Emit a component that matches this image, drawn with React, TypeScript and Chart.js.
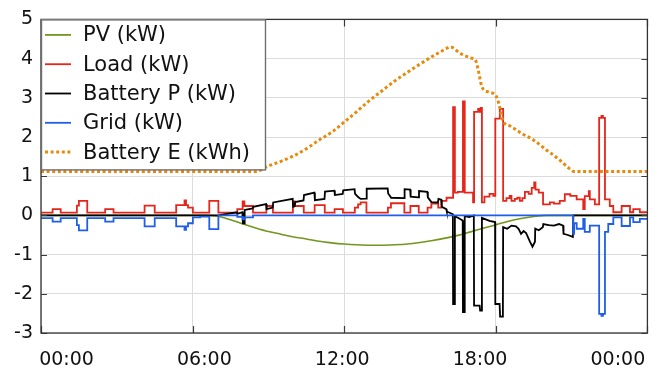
import React, { useEffect, useRef } from 'react';
import { Chart, registerables } from 'chart.js';

Chart.register(...registerables);

// ---- data (hours, value) ----
const PV: [number, number][] = [
  [0, 0], [6.5, 0], [7, -0.02], [7.5, -0.11], [8, -0.22], [8.5, -0.32], [9, -0.41], [9.5, -0.48],
  [10, -0.55], [10.5, -0.6], [11, -0.66], [11.5, -0.7], [12, -0.73], [12.5, -0.75], [13, -0.76],
  [13.5, -0.76], [14, -0.75], [14.5, -0.73], [15, -0.69], [15.5, -0.64], [16, -0.58], [16.5, -0.51],
  [17, -0.42], [17.5, -0.33], [18, -0.24], [18.5, -0.15], [19, -0.08], [19.5, -0.03], [20, 0], [24, 0],
];

const LOAD: [number, number][] = [
  [0, 0.07], [0.46, 0.16], [0.78, 0.07], [1.42, 0.25], [1.5, 0.37], [1.83, 0.07], [2.54, 0.16], [2.87, 0.07],
  [4.1, 0.25], [4.5, 0.07], [5.35, 0.26], [5.68, 0.38], [5.74, 0.26], [5.82, 0.2], [6.01, 0.07], [6.66, 0.37],
  [7.02, 0.07], [7.77, 0.16], [7.98, 0.36], [8.05, 0.24], [8.39, 0.07], [8.92, 0.24], [9.18, 0.07],
  [9.97, 0.36], [10.05, 0.24], [10.4, 0.07], [10.83, 0.26], [11.23, 0.07], [11.62, 0.16], [11.95, 0.07],
  [12.42, 0.2], [12.55, 0.28], [12.65, 0.33], [12.88, 0.07], [13.73, 0.2], [13.85, 0.31], [14.38, 0.07],
  [14.62, 0.24], [14.95, 0.07], [15.3, 0.2], [15.45, 0.3], [15.72, 0.2], [15.85, 0.37], [16.05, 0.45],
  [16.31, 2.76], [16.38, 0.58], [16.5, 0.6], [16.7, 2.91], [16.77, 0.58], [17.1, 0.33], [17.14, 2.64],
  [17.3, 2.72], [17.36, 2.64], [17.4, 2.74], [17.45, 0.33], [17.55, 0.48], [17.75, 0.55], [17.9, 0.5],
  [17.98, 2.47], [18.16, 2.72], [18.29, 0.37], [18.42, 0.44], [18.55, 0.5], [18.62, 0.37], [18.75, 0.42],
  [18.85, 0.45], [18.95, 0.37], [19.05, 0.44], [19.15, 0.6], [19.3, 0.55], [19.42, 0.7], [19.52, 0.84],
  [19.57, 0.66], [19.7, 0.58], [19.87, 0.28], [20.14, 0.33], [20.3, 0.3], [20.53, 0.37], [20.73, 0.54],
  [20.95, 0.5], [21.2, 0.41], [21.46, 0.16], [21.52, 0.49], [21.68, 0.62], [21.72, 0.41], [21.92, 0.28],
  [22.09, 2.49], [22.18, 2.54], [22.24, 2.49], [22.32, 0.41], [22.51, 0.24], [22.65, 0.08], [22.98, 0.24],
  [23.31, 0.08], [23.44, 0.16], [23.7, 0.08], [24, 0.08],
];

const BATTERY_P: [number, number][] = [
  [0, 0], [7.0, 0], [7.75, 0.08], [7.77, 0.04], [7.97, 0.08], [7.99, -0.2], [8.04, -0.2], [8.06, 0.14],
  [8.38, 0.18], [8.4, 0.22], [8.91, 0.29], [8.93, 0.16], [9.17, 0.2], [9.19, 0.33], [9.96, 0.42],
  [9.98, 0.22], [10.04, 0.23], [10.06, 0.34], [10.39, 0.38], [10.41, 0.52], [10.82, 0.58], [10.84, 0.39],
  [11.22, 0.42], [11.24, 0.61], [11.61, 0.63], [11.63, 0.52], [11.94, 0.55], [11.96, 0.64], [12.41, 0.67],
  [12.43, 0.55], [12.55, 0.47], [12.65, 0.42], [12.87, 0.43], [12.89, 0.68], [13.72, 0.69], [13.74, 0.56],
  [13.86, 0.45], [14.37, 0.44], [14.39, 0.67], [14.61, 0.66], [14.63, 0.48], [14.94, 0.46], [14.96, 0.62],
  [15.29, 0.6], [15.31, 0.46], [15.45, 0.34], [15.71, 0.33], [15.73, 0.42], [15.84, 0.4], [15.86, 0.22],
  [16.04, 0.16], [16.06, 0.1], [16.3, 0.03], [16.31, -2.26], [16.37, -2.26], [16.38, -0.02], [16.5, -0.06],
  [16.69, -0.13], [16.7, -2.47], [16.76, -2.47], [16.77, -0.02], [16.95, -0.04], [17.13, 0.0], [17.14, -2.3],
  [17.36, -2.3], [17.38, -2.43], [17.44, -2.43], [17.45, -0.06], [17.6, -0.1], [17.75, -0.14], [17.97, -0.17],
  [17.98, -2.26], [18.15, -2.26], [18.17, -2.58], [18.28, -2.58], [18.29, -0.3], [18.45, -0.34],
  [18.62, -0.26], [18.8, -0.28], [18.9, -0.34], [19.0, -0.47], [19.1, -0.4], [19.2, -0.45], [19.35, -0.67],
  [19.45, -0.8], [19.55, -0.67], [19.56, -0.34], [19.7, -0.38], [19.86, -0.3], [19.88, -0.22], [20.1, -0.25],
  [20.3, -0.26], [20.5, -0.22], [20.66, -0.26], [20.68, -0.47], [20.85, -0.5], [21.05, -0.55], [21.07, 0],
  [24, 0],
];

const GRID: [number, number][] = [
  [0, -0.07], [0.46, -0.16], [0.78, -0.07], [1.42, -0.25], [1.5, -0.38], [1.83, -0.07], [2.54, -0.16],
  [2.87, -0.07], [4.1, -0.28], [4.5, -0.07], [5.35, -0.28], [5.68, -0.37], [5.74, -0.28], [5.82, -0.2],
  [6.01, -0.05], [6.3, -0.03], [6.66, -0.35], [7.02, 0], [7.77, -0.04], [7.98, -0.1], [8.05, -0.05],
  [8.39, 0], [21.06, -0.47], [21.1, -0.2], [21.2, -0.34], [21.46, -0.09], [21.52, -0.42], [21.72, -0.26],
  [22.09, -2.51], [22.18, -2.56], [22.24, -2.51], [22.32, -0.42], [22.45, -0.22], [22.65, -0.05],
  [22.98, -0.27], [23.31, -0.05], [23.44, -0.17], [23.7, -0.09], [24, -0.09],
];

const BATTERY_E: [number, number][] = [
  [0, 1.12], [8.5, 1.12], [9, 1.26], [9.5, 1.38], [10, 1.52], [10.5, 1.7], [11, 1.92], [11.5, 2.12],
  [12, 2.38], [12.5, 2.65], [13, 2.93], [13.5, 3.18], [14, 3.43], [14.5, 3.65], [15, 3.86], [15.5, 4.06],
  [16, 4.24], [16.2, 4.3], [16.6, 4.13], [17.0, 4.02], [17.2, 3.95], [17.3, 3.72], [17.45, 3.28],
  [17.7, 3.15], [18.0, 3.06], [18.12, 2.85], [18.28, 2.42], [18.6, 2.27], [19, 2.1], [19.5, 1.92],
  [20, 1.67], [20.5, 1.43], [20.9, 1.2], [21.1, 1.12], [24, 1.12],
];

const SERIES_NAMES = ['PV (kW)', 'Load (kW)', 'Battery P (kW)', 'Grid (kW)', 'Battery E (kWh)'];
const X_TICK_HOURS = [0, 6, 12, 18, 24];
const X_LABELS = ['00:00', '06:00', '12:00', '18:00', '00:00'];
const Y_TICKS = [-3, -2, -1, 0, 1, 2, 3, 4, 5];

// ---- styles ----
const FONT = '"DejaVu Sans", "Liberation Sans", sans-serif';
const COLORS = ['#72961f', '#e5261b', '#000000', '#1f5ee8', '#e8890c'];
const GRID_COLOR = '#dcdcdc';

const toXY = (arr: [number, number][]) => arr.map(([t, v]) => ({ x: t, y: v }));

const decorPlugin = {
  id: 'decor',
  afterDraw(chart: any) {
    const { ctx, chartArea: a, scales } = chart;
    const xs = scales.x;
    const ys = scales.y;
    ctx.save();
    // inward ticks
    ctx.strokeStyle = '#3a3a3a';
    ctx.lineWidth = 1.2;
    ctx.beginPath();
    for (const v of Y_TICKS) {
      const py = Math.round(ys.getPixelForValue(v)) + 0.5;
      ctx.moveTo(a.left, py);
      ctx.lineTo(a.left + 6, py);
      ctx.moveTo(a.right, py);
      ctx.lineTo(a.right - 6, py);
    }
    for (const h of X_TICK_HOURS) {
      const px = Math.round(xs.getPixelForValue(h)) + 0.5;
      ctx.moveTo(px, a.bottom);
      ctx.lineTo(px, a.bottom - 7);
      ctx.moveTo(px, a.top);
      ctx.lineTo(px, a.top + 7);
    }
    ctx.stroke();
    // frame
    ctx.strokeStyle = '#333';
    ctx.lineWidth = 1.3;
    ctx.strokeRect(a.left, a.top, a.right - a.left, a.bottom - a.top);

    // legend
    const lx = a.left;
    const ly = a.top;
    const lw = 224;
    const lh = 150;
    ctx.fillStyle = '#fff';
    ctx.fillRect(lx, ly, lw, lh);
    ctx.strokeStyle = '#6e6e6e';
    ctx.lineWidth = 1.4;
    ctx.strokeRect(lx + 0.5, ly + 0.5, lw, lh);
    ctx.font = `21px ${FONT}`;
    ctx.textBaseline = 'alphabetic';
    ctx.textAlign = 'left';
    SERIES_NAMES.forEach((name, i) => {
      const cy = ly + 15.5 + i * 29.3;
      ctx.beginPath();
      ctx.strokeStyle = COLORS[i];
      if (i === 4) {
        ctx.lineWidth = 3;
        ctx.setLineDash([3, 2.6]);
      } else {
        ctx.lineWidth = 1.8;
        ctx.setLineDash([]);
      }
      ctx.moveTo(lx + 4, cy);
      ctx.lineTo(lx + 30, cy);
      ctx.stroke();
      ctx.setLineDash([]);
      ctx.fillStyle = '#111';
      ctx.fillText(name, lx + 42, cy + 6.5);
    });
    ctx.restore();
  },
};

export default function App() {
  const ref = useRef<HTMLCanvasElement>(null);
  useEffect(() => {
    document.body.style.margin = '0';
    const canvas = ref.current!;
    const chart = new Chart(canvas, {
      type: 'line',
      data: {
        datasets: [
          {
            label: SERIES_NAMES[0], data: toXY(PV), borderColor: COLORS[0], borderWidth: 1.6,
            pointRadius: 0, cubicInterpolationMode: 'monotone', order: 5,
          },
          {
            label: SERIES_NAMES[1], data: toXY(LOAD), borderColor: COLORS[1], borderWidth: 1.8,
            pointRadius: 0, stepped: 'before', order: 4,
          },
          {
            label: SERIES_NAMES[2], data: toXY(BATTERY_P), borderColor: COLORS[2], borderWidth: 1.8,
            pointRadius: 0, order: 3,
          },
          {
            label: SERIES_NAMES[3], data: toXY(GRID), borderColor: COLORS[3], borderWidth: 1.8,
            pointRadius: 0, stepped: 'before', order: 2,
          },
          {
            label: SERIES_NAMES[4], data: toXY(BATTERY_E), borderColor: COLORS[4], borderWidth: 3,
            borderDash: [3, 2.6], borderCapStyle: 'butt', pointRadius: 0,
            cubicInterpolationMode: 'monotone', order: 1,
          },
        ] as any,
      },
      options: {
        responsive: false,
        animation: false,
        devicePixelRatio: 1,
        layout: { padding: { top: 13, right: 14, left: 0, bottom: 0 } },
        plugins: { legend: { display: false }, tooltip: { enabled: false } },
        scales: {
          x: {
            type: 'linear', min: 0, max: 24,
            afterBuildTicks: (s: any) => { s.ticks = X_TICK_HOURS.map((v) => ({ value: v })); },
            ticks: { display: false },
            grid: { color: GRID_COLOR, drawTicks: false, lineWidth: 1 },
            border: { display: false },
            afterFit: (s: any) => { s.height = 0; },
          },
          xl: {
            type: 'linear', position: 'bottom', min: -0.185, max: 4.214,
            afterBuildTicks: (s: any) => { s.ticks = X_LABELS.map((_, i) => ({ value: i })); },
            ticks: {
              callback: (_v: any, i: number) => X_LABELS[i],
              font: { family: FONT, size: 19 }, color: '#111', padding: 16,
              maxRotation: 0, autoSkip: false,
            },
            grid: { display: false, drawTicks: false },
            border: { display: false },
            afterFit: (s: any) => { s.height = 41; },
          },
          y: {
            type: 'linear', min: -3, max: 5,
            afterBuildTicks: (s: any) => { s.ticks = Y_TICKS.map((v) => ({ value: v })); },
            ticks: {
              callback: (v: any) => String(v),
              font: { family: FONT, size: 19 }, color: '#111', padding: 8,
            },
            grid: { color: GRID_COLOR, drawTicks: false, lineWidth: 1 },
            border: { display: false },
            afterFit: (s: any) => { s.width = 41; },
          },
        } as any,
      },
      plugins: [decorPlugin],
    });
    return () => chart.destroy();
  }, []);
  return (
    <div style={{ width: 662, height: 374, overflow: 'hidden' }}>
      <canvas ref={ref} width={662} height={374} style={{ display: 'block', width: 662, height: 374 }} />
    </div>
  );
}
